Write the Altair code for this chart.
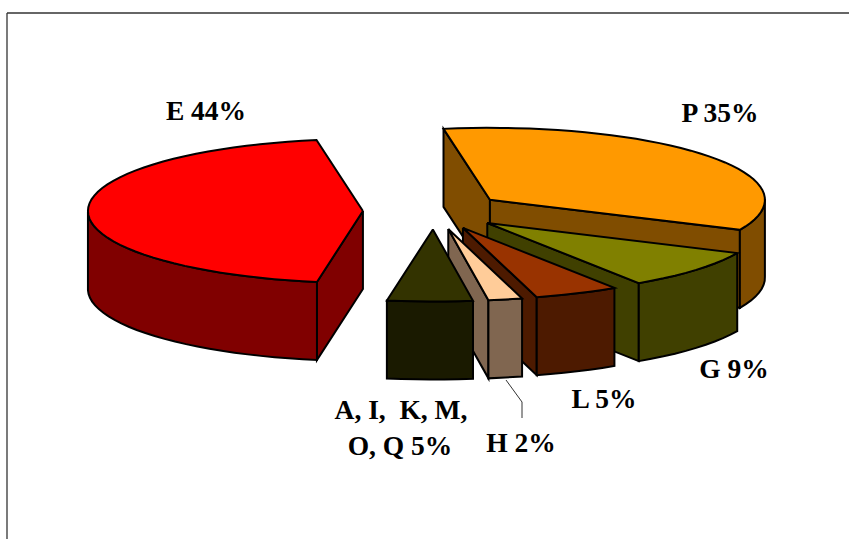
import math
import altair as alt
import pandas as pd

# Exploded 3D pie: shares per sector, clockwise from the start angle
sectors = ["P", "G", "L", "H", "AIKMOQ", "E"]
shares = [35, 9, 5, 2, 5, 44]
top_colors = ["#FF9900", "#808000", "#993300", "#FFCC99", "#333300", "#FF0000"]
side_colors = ["#804D00", "#404000", "#4D1A00", "#806650", "#1A1A00", "#800000"]

label_texts = ["E 44%", "P 35%", "G 9%", "L 5%", "A, I,\u00a0\u00a0K, M,", "O, Q 5%", "H 2%"]
label_x = [206, 720, 734, 604, 401, 400, 521]
label_y = [112, 114, 370, 400, 411, 447, 444]

W, H = 849, 539
CX, CY = 433.6, 211          # pie centre on the page
RX, RY = 275, 72             # radii of the tilted disc
DEPTH = 78                   # height of the extruded wall
EXPLODE = 0.257              # share of the radius each sector is pulled out
START = -10                  # clockwise degrees from twelve o'clock
LINE = 2

x_scale = alt.Scale(domain=[0, W], range=[0, W], nice=False, zero=False)
y_scale = alt.Scale(domain=[0, H], range=[0, H], nice=False, zero=False)


def on_disc(ox, oy, deg, r=1.0):
    # Slight foreshortening: angles toward the viewer are compressed by the tilt
    t = math.radians(deg)
    t += math.radians(0.3 - 1.15 * (1 - math.cos(t)))
    return ox + RX * r * math.sin(t), oy - RY * r * math.cos(t)


def arc(ox, oy, a, b):
    steps = max(2, int(abs(b - a) / 3))
    return [on_disc(ox, oy, a + (b - a) * i / steps) for i in range(steps + 1)]


def polygon(points, fill):
    closed = list(points) + [points[0]]
    frame = pd.DataFrame(
        {"px": [p[0] for p in closed], "py": [p[1] for p in closed], "i": range(len(closed))}
    )
    return (
        alt.Chart(frame)
        .mark_line(fill=fill, stroke="#000000", strokeWidth=LINE, strokeJoin="miter", clip=False)
        .encode(
            x=alt.X("px:Q", scale=x_scale, axis=None),
            y=alt.Y("py:Q", scale=y_scale, axis=None),
            order=alt.Order("i:Q"),
        )
    )


def wall(a, b):
    return [a, b, (b[0], b[1] + DEPTH), (a[0], a[1] + DEPTH)]


layers = []
angle = START
for share, top, side in zip(shares, top_colors, side_colors):
    a0 = angle
    a1 = angle + share * 3.6
    angle = a1
    mid = (a0 + a1) / 2
    ox, oy = on_disc(CX, CY, mid, EXPLODE)
    apex = (ox, oy)
    start_pt = on_disc(ox, oy, a0)
    end_pt = on_disc(ox, oy, a1)

    # Radial walls that face the viewer
    if math.sin(math.radians(a0)) < 0:
        layers.append(polygon(wall(apex, start_pt), side))
    if math.sin(math.radians(a1)) > 0:
        layers.append(polygon(wall(apex, end_pt), side))

    # Curved rim on the front half of the disc
    lo, hi = max(a0, 90), min(a1, 270)
    if lo < hi:
        edge = arc(ox, oy, lo, hi)
        layers.append(polygon(edge + [(p[0], p[1] + DEPTH) for p in reversed(edge)], side))

    # Top face
    layers.append(polygon([apex] + arc(ox, oy, a0, a1), top))

# Leader line from the H sector to its label
leader = pd.DataFrame({"px": [506, 522, 522], "py": [380, 402, 418], "i": [0, 1, 2]})
leader_line = (
    alt.Chart(leader)
    .mark_line(color="#333333", strokeWidth=1)
    .encode(
        x=alt.X("px:Q", scale=x_scale, axis=None),
        y=alt.Y("py:Q", scale=y_scale, axis=None),
        order=alt.Order("i:Q"),
    )
)

# Sector labels
labels = pd.DataFrame({"t": label_texts, "px": label_x, "py": label_y})
label_marks = (
    alt.Chart(labels)
    .mark_text(font="Liberation Serif", fontWeight="bold", fontSize=27.5, color="#000000", baseline="middle")
    .encode(
        x=alt.X("px:Q", scale=x_scale, axis=None),
        y=alt.Y("py:Q", scale=y_scale, axis=None),
        text="t:N",
    )
)

# Open frame: top and left edges only
frame_top = pd.DataFrame({"px": [7], "px2": [W], "py": [13]})
frame_left = pd.DataFrame({"px": [7], "py": [13], "py2": [H]})
top_rule = (
    alt.Chart(frame_top)
    .mark_rule(color="#333333", strokeWidth=1.3)
    .encode(x=alt.X("px:Q", scale=x_scale, axis=None), x2="px2:Q", y=alt.Y("py:Q", scale=y_scale, axis=None))
)
left_rule = (
    alt.Chart(frame_left)
    .mark_rule(color="#333333", strokeWidth=1.3)
    .encode(x=alt.X("px:Q", scale=x_scale, axis=None), y=alt.Y("py:Q", scale=y_scale, axis=None), y2="py2:Q")
)

chart = (
    alt.layer(top_rule, left_rule, *layers, leader_line, label_marks)
    .properties(width=W, height=H, padding=0, autosize=alt.AutoSizeParams(type="none"), background="#FFFFFF")
    .configure_view(stroke=None)
)

chart.save("out.html", embed_options={"renderer": "svg", "actions": False})
